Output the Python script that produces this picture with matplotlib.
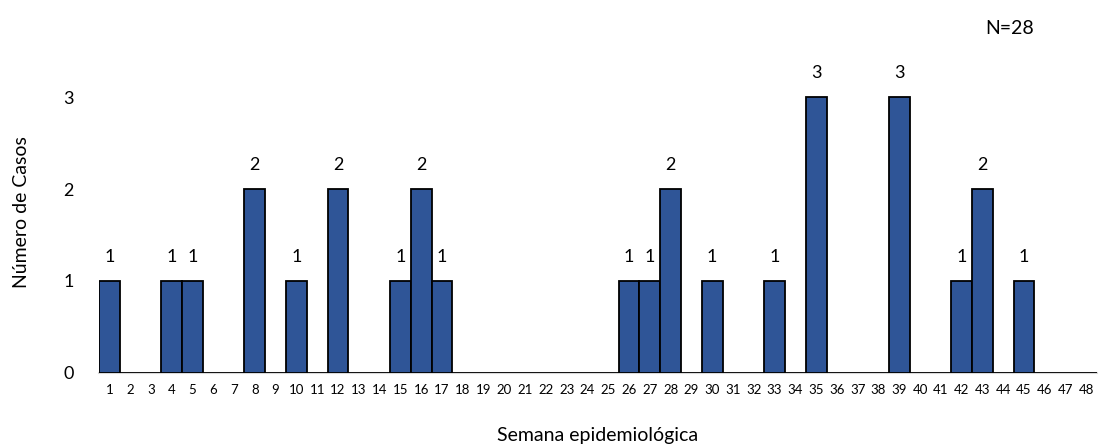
import matplotlib.pyplot as plt
import numpy as np

semanas = list(range(1, 49))
casos_por_semana = {1: 1, 4: 1, 5: 1, 8: 2, 10: 1, 12: 2, 15: 1, 16: 2, 17: 1,
                    26: 1, 27: 1, 28: 2, 30: 1, 33: 1, 35: 3, 39: 3, 42: 1,
                    43: 2, 45: 1}
casos = [casos_por_semana.get(s, 0) for s in semanas]
total = sum(casos)

plt.rcParams['font.family'] = ['Lato', 'DejaVu Sans']

fig = plt.figure(figsize=(10.99, 4.44), dpi=100)
ax = fig.add_axes([0.090, 0.160, 0.908, 0.725])

x = np.arange(len(semanas))
ax.bar(x, casos, width=1.0, color='#2F5597', edgecolor='black', linewidth=1.3, zorder=3)

for xi, c in zip(x, casos):
    if c > 0:
        ax.text(xi, c + 0.17, str(c), ha='center', va='bottom', fontsize=13)

ax.set_xlim(-0.5, len(semanas) - 0.5)
ax.set_ylim(0, 3.5)
ax.set_xticks(x)
ax.set_xticklabels([str(s) for s in semanas], fontsize=9.5)
ax.set_yticks([0, 1, 2, 3])
ax.tick_params(axis='y', labelsize=13, length=0, pad=18)
ax.tick_params(axis='x', length=0, pad=8)

for side in ['top', 'right', 'left']:
    ax.spines[side].set_visible(False)
ax.spines['bottom'].set_color('#d9d9d9')
ax.spines['bottom'].set_linewidth(1.5)

ax.set_ylabel('Número de Casos', fontsize=14, labelpad=24)
ax.set_xlabel('Semana epidemiológica', fontsize=14, labelpad=22)

fig.text(0.919, 0.935, 'N=%d' % total, ha='center', va='center', fontsize=14)

fig.savefig('out.png', dpi=100)
